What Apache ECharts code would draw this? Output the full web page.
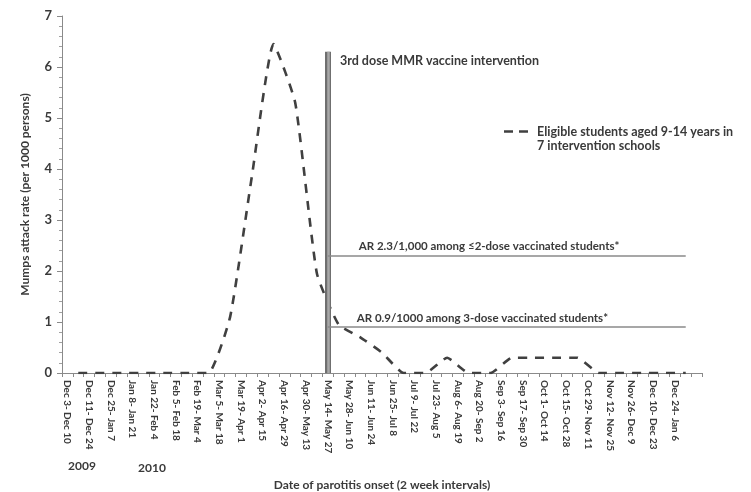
<!DOCTYPE html>
<html>
<head>
<meta charset="utf-8">
<script src="https://cdn.jsdelivr.net/npm/echarts@6/dist/echarts.min.js"></script>
<style>
  html, body { margin: 0; padding: 0; background: #ffffff; }
  #chart { width: 751px; height: 492px; }
</style>
</head>
<body>
<div id="chart"></div>
<script>
// Two-week onset periods (first one is a single week)
const periodLabels = [
  'Dec 3- Dec 10', 'Dec 11- Dec 24', 'Dec 25- Jan 7', 'Jan 8- Jan 21', 'Jan 22- Feb 4',
  'Feb 5- Feb 18', 'Feb 19- Mar 4', 'Mar 5- Mar 18', 'Mar 19- Apr 1', 'Apr 2- Apr 15',
  'Apr 16- Apr 29', 'Apr 30- May 13', 'May 14- May 27', 'May 28- Jun 10', 'Jun 11- Jun 24',
  'Jun 25- Jul 8', 'Jul 9- Jul 22', 'Jul 23- Aug 5', 'Aug 6- Aug 19', 'Aug 20- Sep 2',
  'Sep 3- Sep 16', 'Sep 17- Sep 30', 'Oct 1- Oct 14', 'Oct 15- Oct 28', 'Oct 29- Nov 11',
  'Nov 12- Nov 25', 'Nov 26- Dec 9', 'Dec 10- Dec 23', 'Dec 24- Jan 6'
];

// Mumps attack rate per 1000 persons, one value per period
const attackRate = [
  0, 0, 0, 0, 0, 0, 0, 1.1, 3.85, 6.45,
  5.3, 1.95, 0.95, 0.7, 0.4, 0, 0, 0.3, 0, 0,
  0.3, 0.3, 0.3, 0.3, 0, 0, 0, 0, 0
];

const seriesName = 'Eligible students aged 9-14 years in\n7 intervention schools';
const interventionPeriod = 'May 14- May 27';
const interventionTop = 6.3;
const arUpTo2Dose = 2.3;
const arThreeDose = 0.9;
const yearLabels = ['2009', '2010'];
const yTicks = [0, 1, 2, 3, 4, 5, 6, 7];

// Weekly slots: each period label sits on an even slot, its value on the following odd slot
const weekSlots = [];
const weekValues = [];
periodLabels.forEach((label, i) => {
  weekSlots.push(label);
  weekValues.push(null);
  weekSlots.push('');
  weekValues.push(attackRate[i]);
});
weekSlots.push('');
weekValues.push(null);
const lastValueSlot = weekSlots.length - 2;

const FONT = 'Lato';
const TEXT = '#3a3a3a';
const AXIS = '#8a8a8a';
const nameLines = seriesName.split('\n');

const chart = echarts.init(document.getElementById('chart'), null, { renderer: 'canvas' });

chart.setOption({
  animation: false,
  backgroundColor: '#ffffff',
  textStyle: { fontFamily: FONT },
  grid: { left: 62, right: 49, top: 16, bottom: 119, containLabel: false, outerBoundsMode: 'none' },
  legend: {
    left: 499,
    top: 120,
    orient: 'vertical',
    itemWidth: 24,
    itemHeight: 16,
    itemGap: 0,
    selectedMode: false,
    data: [{ name: seriesName, icon: 'path://M0,7 L9,7 L9,9.6 L0,9.6 Z M15,7 L24,7 L24,9.6 L15,9.6 Z' }],
    formatter: () => nameLines[0],
    itemStyle: { color: '#404040', borderWidth: 0 },
    lineStyle: { width: 0 },
    textStyle: { fontFamily: FONT, fontSize: 12.5, fontWeight: 'bold', color: TEXT, padding: [0, 0, 0, 4] }
  },
  xAxis: {
    type: 'category',
    data: weekSlots,
    boundaryGap: true,
    name: 'Date of parotitis onset (2 week intervals)',
    nameLocation: 'middle',
    nameGap: 106,
    nameTextStyle: { fontFamily: FONT, fontSize: 12, fontWeight: 'bold', color: TEXT },
    axisLine: { lineStyle: { color: AXIS, width: 1 } },
    axisTick: { show: true, interval: 0, length: 4, lineStyle: { color: AXIS } },
    axisLabel: {
      interval: 1,
      rotate: -90,
      margin: 7,
      fontFamily: FONT,
      fontSize: 10,
      fontWeight: 'bold',
      color: TEXT
    },
    splitLine: { show: false }
  },
  yAxis: {
    type: 'value',
    min: yTicks[0],
    max: yTicks[yTicks.length - 1],
    interval: 1,
    name: 'Mumps attack rate (per 1000 persons)',
    nameLocation: 'middle',
    nameGap: 31,
    nameTextStyle: { fontFamily: FONT, fontSize: 12, fontWeight: 'bold', color: TEXT },
    axisLine: { show: true, lineStyle: { color: AXIS, width: 1 } },
    axisTick: { show: true, length: 5, lineStyle: { color: AXIS } },
    minorTick: { show: true, splitNumber: 5, length: 3, lineStyle: { color: '#a0a0a0' } },
    axisLabel: { margin: 10, fontFamily: FONT, fontSize: 13, fontWeight: 'bold', color: TEXT },
    splitLine: { show: false }
  },
  series: [{
    name: seriesName,
    type: 'line',
    data: weekValues,
    connectNulls: true,
    smooth: 0.15,
    showSymbol: false,
    symbol: 'none',
    lineStyle: { color: '#404040', width: 2.6, type: [9, 8] },
    itemStyle: { color: '#404040' },
    z: 3,
    markLine: {
      silent: true,
      symbol: 'none',
      animation: false,
      data: [
        [
          { coord: [interventionPeriod, 0], lineStyle: { color: '#6f6f6f', width: 6, type: 'solid' }, label: { show: false } },
          { coord: [interventionPeriod, interventionTop] }
        ],
        [
          { coord: [interventionPeriod, 0], lineStyle: { color: '#a8a8a8', width: 2.5, type: 'solid' }, label: { show: false } },
          { coord: [interventionPeriod, interventionTop] }
        ],
        [
          {
            coord: [interventionPeriod, arUpTo2Dose],
            lineStyle: { color: '#8a8a8a', width: 1.5, type: 'solid' },
            label: {
              show: true, position: 'insideStartTop', distance: [31, 3],
              formatter: 'AR ' + arUpTo2Dose + '/1,000 among \u22642-dose vaccinated students*',
              fontFamily: FONT, fontSize: 11.5, fontWeight: 'bold', color: TEXT
            }
          },
          { coord: [lastValueSlot, arUpTo2Dose] }
        ],
        [
          {
            coord: [interventionPeriod, arThreeDose],
            lineStyle: { color: '#8a8a8a', width: 1.5, type: 'solid' },
            label: {
              show: true, position: 'insideStartTop', distance: [29, 3],
              formatter: 'AR ' + arThreeDose + '/1000 among 3-dose vaccinated students*',
              fontFamily: FONT, fontSize: 11.5, fontWeight: 'bold', color: TEXT
            }
          },
          { coord: [lastValueSlot, arThreeDose] }
        ]
      ]
    }
  }],
  graphic: [
    {
      type: 'text', left: 537, top: 139,
      style: { text: nameLines[1], font: 'bold 12.5px Lato', fill: TEXT }
    },
    {
      type: 'text', left: 340, top: 54,
      style: { text: '3rd dose MMR vaccine intervention', font: 'bold 12.5px Lato', fill: TEXT }
    },
    {
      type: 'text', left: 68, top: 460,
      style: { text: yearLabels[0], font: 'bold 12px Lato', fill: TEXT }
    },
    {
      type: 'text', left: 138, top: 462,
      style: { text: yearLabels[1], font: 'bold 12px Lato', fill: TEXT }
    }
  ]
});
</script>
</body>
</html>
